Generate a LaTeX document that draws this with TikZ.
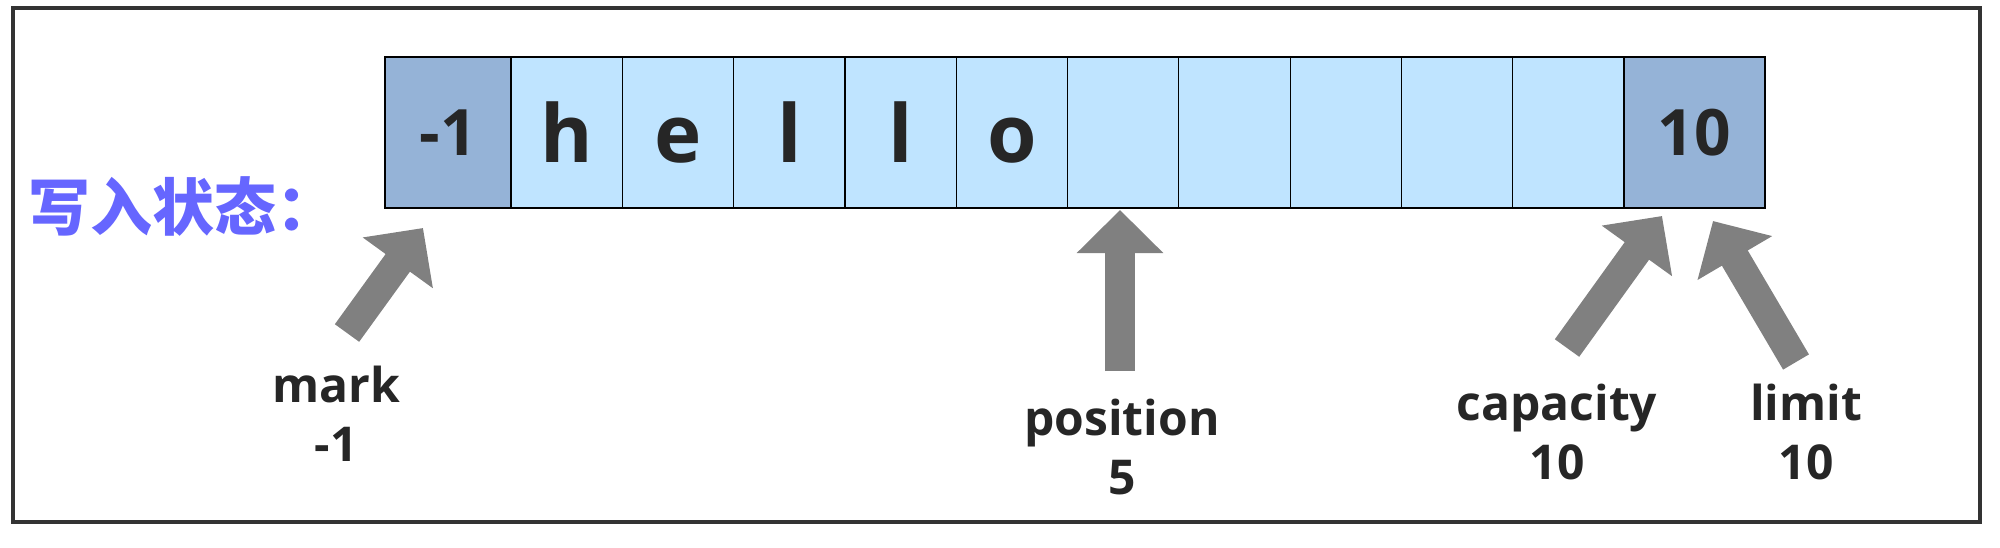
\documentclass[tikz,border=0pt]{standalone}
\usepackage{fontspec}
\setmainfont{Open Sans}
\newfontfamily\cjkfont{Noto Sans CJK SC}
\usetikzlibrary{positioning,arrows.meta}

\begin{document}
\begin{tikzpicture}[x=.5pt,y=-.5pt,
  cell/.style={draw=black,line width=0.6pt,fill={rgb,255:red,191;green,228;blue,255},minimum width=55.65pt,minimum height=75.5pt,inner sep=0pt,outer sep=0pt,text={rgb,255:red,38;green,38;blue,38},font=\bfseries\fontsize{40}{42}\selectfont,text height=29.5pt,text depth=0pt},
  endcell/.style={cell,fill={rgb,255:red,149;green,179;blue,215},font=\bfseries\fontsize{32}{34}\selectfont,text height=23pt},
  pointer/.style={draw={rgb,255:red,128;green,128;blue,128},line width=15pt,-{Triangle[length=21.5pt,width=42pt]}},
  tag/.style={align=center,anchor=base,inner sep=0pt,text={rgb,255:red,38;green,38;blue,38},font=\bfseries\fontsize{24}{29.5}\selectfont}]
\path[use as bounding box] (0,0) rectangle (2000,547);
\draw[line width=1.6pt,draw={rgb,255:red,51;green,51;blue,51}] (13,8) rectangle (1980,522);
\node[anchor=west,inner sep=0pt,text={rgb,255:red,102;green,102;blue,255},font=\cjkfont\bfseries\fontsize{31}{33}\selectfont] (state) at (28,206) {写入状态：};
% buffer cells
\node[endcell,minimum width=63pt] (c0) at (448,132.5) {-1};
\node[cell,right=0pt of c0] (c1) {h};
\node[cell,right=0pt of c1] (c2) {e};
\node[cell,right=0pt of c2] (c3) {l};
\node[cell,right=0pt of c3] (c4) {l};
\node[cell,right=0pt of c4] (c5) {o};
\node[cell,right=0pt of c5] (c6) {};
\node[cell,right=0pt of c6] (c7) {};
\node[cell,right=0pt of c7] (c8) {};
\node[cell,right=0pt of c8] (c9) {};
\node[cell,right=0pt of c9] (c10) {};
\node[endcell,minimum width=70.5pt,right=0pt of c10] (c11) {10};
% pointers (base = last line)
\node[tag] (markLbl) at (336,461) {mark\\-1};
\node[tag] (posLbl) at (1122,494) {position\\5};
\node[tag] (capLbl) at (1557,479) {capacity\\10};
\node[tag] (limLbl) at (1806,479) {limit\\10};
\coordinate (markTail) at (347,333);
\coordinate (markTip) at (423,228);
\coordinate (posTail) at (1120,371);
\coordinate (posTip) at (1120,210);
\coordinate (capTail) at (1567,348);
\coordinate (capTip) at (1662,216);
\coordinate (limTail) at (1796,362);
\coordinate (limTip) at (1713,221);
\draw[pointer] (markTail) -- (markTip);
\draw[pointer] (posTail) -- (posTip);
\draw[pointer] (capTail) -- (capTip);
\draw[pointer] (limTail) -- (limTip);
\end{tikzpicture}
\end{document}
